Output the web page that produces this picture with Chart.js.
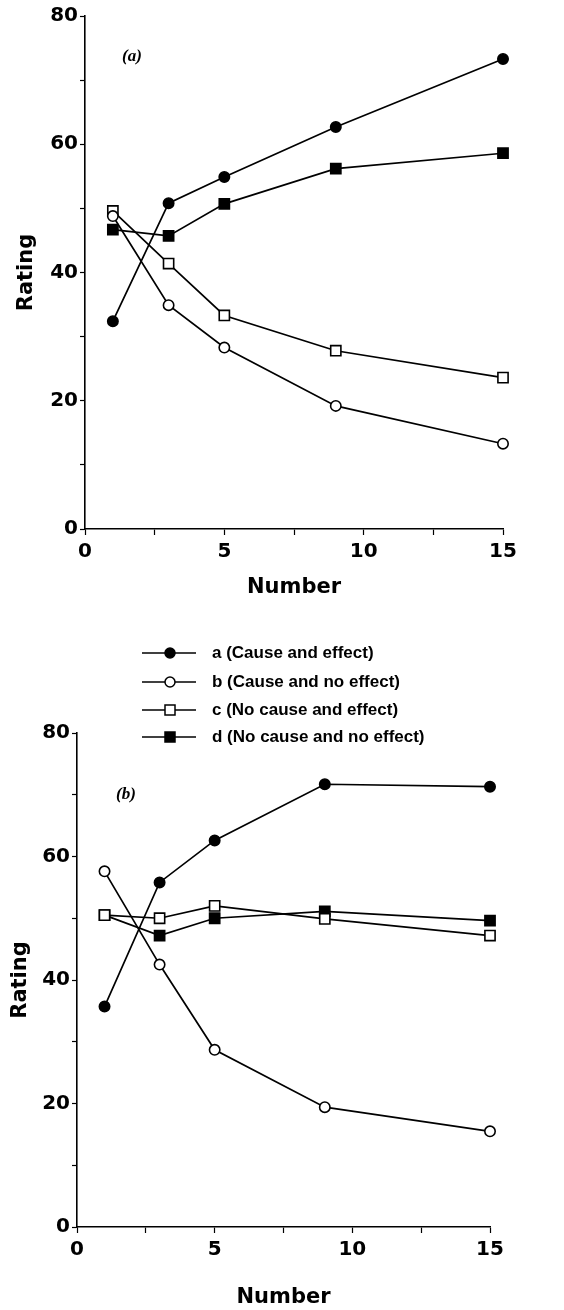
<!DOCTYPE html>
<html>
<head>
<meta charset="utf-8">
<script src="https://cdn.jsdelivr.net/npm/chart.js@4.4.1/dist/chart.umd.min.js"></script>
<style>
  html, body { margin: 0; padding: 0; background: #fff; }
  body { width: 564px; height: 1310px; position: relative; overflow: hidden;
         font-family: "Liberation Sans", Arial, sans-serif; color: #000; }
  .panel { position: absolute; left: 0; width: 564px; }
  #wrapA { top: 0; height: 600px; }
  #wrapB { top: 620px; height: 690px; }
  .tag { position: absolute; font-family: "Liberation Serif", serif; font-weight: bold;
         font-style: italic; font-size: 17px; line-height: 1; }
  .lg-icon { position: absolute; left: 140px; width: 58px; height: 16px; }
  .lg-text { position: absolute; left: 212px; font-weight: bold; font-size: 17px;
             line-height: 20px; white-space: nowrap; }
</style>
</head>
<body>
<div class="panel" id="wrapA"><canvas id="chartA"></canvas></div>
<div class="panel" id="wrapB"><canvas id="chartB"></canvas></div>
<div class="tag" style="left:122px; top:47px;">(a)</div>
<div class="tag" style="left:116px; top:785px;">(b)</div>
<div id="legend"></div>

<script>
// Number of trials on the x axis
const numbers = [1, 3, 5, 9, 15];

// Panel (a) ratings
const aCauseEffect     = [32.4, 50.8, 54.9, 62.7, 73.3];
const aCauseNoEffect   = [48.8, 34.9, 28.3, 19.2, 13.3];
const aNoCauseEffect   = [49.6, 41.4, 33.3, 27.8, 23.6];
const aNoCauseNoEffect = [46.7, 45.7, 50.7, 56.2, 58.6];

// Panel (b) ratings
const bCauseEffect     = [35.7, 55.8, 62.6, 71.7, 71.3];
const bCauseNoEffect   = [57.6, 42.5, 28.7, 19.4, 15.5];
const bNoCauseEffect   = [50.5, 50.0, 52.0, 49.9, 47.2];
const bNoCauseNoEffect = [50.5, 47.2, 50.0, 51.1, 49.6];

const seriesLabels = [
  'a (Cause and effect)',
  'b (Cause and no effect)',
  'c (No cause and effect)',
  'd (No cause and no effect)'
];

// marker look per condition: filled/open circle, open/filled square
const markerKinds = [
  { style: 'circle', fill: '#000' },
  { style: 'circle', fill: '#fff' },
  { style: 'rect',   fill: '#fff' },
  { style: 'rect',   fill: '#000' }
];

const axisFont = '"DejaVu Sans", "Liberation Sans", sans-serif';
Chart.defaults.font.family = axisFont;
Chart.defaults.color = '#000';

function makeDatasets(list) {
  return list.map((vals, i) => {
    const k = markerKinds[i];
    return {
      label: seriesLabels[i],
      data: numbers.map((n, j) => ({ x: n, y: vals[j] })),
      borderColor: '#000',
      borderWidth: 1.7,
      pointStyle: k.style,
      pointRadius: k.style === 'circle' ? 5.2 : 7.2,
      pointBackgroundColor: k.fill,
      pointBorderColor: '#000',
      pointBorderWidth: 1.6,
      tension: 0,
      fill: false,
      clip: false
    };
  });
}

function makeOptions(axisLeft, xAxisHeight, padTop, padRight, yTitlePad) {
  return {
    responsive: true,
    maintainAspectRatio: false,
    animation: false,
    devicePixelRatio: 1,
    layout: { padding: { top: padTop, right: padRight, left: 0, bottom: 0 } },
    plugins: { legend: { display: false }, tooltip: { enabled: false } },
    scales: {
      x: {
        type: 'linear',
        min: 0, max: 15,
        border: { display: true, color: '#000', width: 1.6 },
        grid: { drawOnChartArea: false, drawTicks: true, tickLength: 6, color: '#000', tickWidth: 1.2 },
        ticks: {
          stepSize: 2.5,
          padding: 5,
          maxRotation: 0,
          autoSkip: false,
          font: { size: 20, weight: 'bold' },
          callback: v => (v % 5 === 0 ? String(v) : '')
        },
        title: {
          display: true, text: 'Number',
          font: { size: 21, weight: 'bold' },
          padding: { top: 0, bottom: 0 }
        },
        afterFit: s => { s.height = xAxisHeight; }
      },
      y: {
        min: 0, max: 80,
        border: { display: true, color: '#000', width: 1.6 },
        grid: { drawOnChartArea: false, drawTicks: true, tickLength: 5, color: '#000', tickWidth: 1.2 },
        ticks: {
          stepSize: 10,
          padding: 2,
          autoSkip: false,
          font: { size: 20, weight: 'bold' },
          callback: v => (v % 20 === 0 ? String(v) : '')
        },
        title: {
          display: true, text: 'Rating',
          font: { size: 21, weight: 'bold' },
          padding: { top: yTitlePad, bottom: 0 }
        },
        afterFit: s => { s.width = axisLeft; }
      }
    }
  };
}

new Chart(document.getElementById('chartA'), {
  type: 'line',
  data: { datasets: makeDatasets([aCauseEffect, aCauseNoEffect, aNoCauseEffect, aNoCauseNoEffect]) },
  options: makeOptions(85, 71, 16, 61, 14)
});

new Chart(document.getElementById('chartB'), {
  type: 'line',
  data: { datasets: makeDatasets([bCauseEffect, bCauseNoEffect, bNoCauseEffect, bNoCauseNoEffect]) },
  options: makeOptions(77, 83, 113, 74, 8)
});

// legend between the two panels
const legendTops = [653, 682, 710, 737];
const legendBox = document.getElementById('legend');
seriesLabels.forEach((txt, i) => {
  const k = markerKinds[i];
  const cy = legendTops[i];
  const marker = k.style === 'circle'
    ? `<circle cx="30" cy="8" r="5" fill="${k.fill}" stroke="#000" stroke-width="1.5"/>`
    : `<rect x="25" y="3" width="10" height="10" fill="${k.fill}" stroke="#000" stroke-width="1.5"/>`;
  const icon = document.createElement('div');
  icon.className = 'lg-icon';
  icon.style.top = (cy - 8) + 'px';
  icon.innerHTML = `<svg width="58" height="16"><line x1="2" y1="8" x2="56" y2="8" stroke="#000" stroke-width="1.6"/>${marker}</svg>`;
  legendBox.appendChild(icon);
  const label = document.createElement('div');
  label.className = 'lg-text';
  label.style.top = (cy - 10) + 'px';
  label.textContent = txt;
  legendBox.appendChild(label);
});
</script>
</body>
</html>
